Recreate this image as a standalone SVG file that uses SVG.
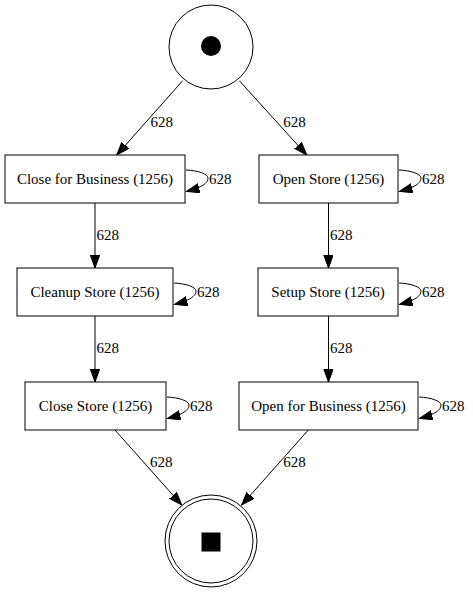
<svg xmlns="http://www.w3.org/2000/svg" width="473" height="593" viewBox="0 0 473 593">
<style>
text{font-family:"Liberation Serif","Times New Roman",serif;font-size:15px;fill:#000}
.n{text-anchor:middle}
.box{fill:#fff;stroke:#000;stroke-width:1}
.e{fill:none;stroke:#000;stroke-width:1;marker-end:url(#arr)}
</style>
<defs>
<marker id="arr" markerUnits="userSpaceOnUse" markerWidth="14" markerHeight="10" refX="13" refY="4.7" orient="auto">
<path d="M0,0 L13,4.7 L0,9.4 Z" fill="#000" stroke="#000" stroke-width="1"/>
</marker>
</defs>
<rect width="473" height="593" fill="#fff"/>
<g id="connectors">
<path class="e" d="M182.7,80.7 L116.7,155"/>
<text x="150.5" y="126.5">628</text>
<path class="e" d="M239.3,80.7 L306.7,155"/>
<text x="283.3" y="126.5">628</text>
<path class="e" d="M95,203 L95,268"/>
<text x="96.5" y="240">628</text>
<path class="e" d="M95,316 L95,382"/>
<text x="96.5" y="353">628</text>
<path class="e" d="M328.5,203 L328.5,268"/>
<text x="330" y="240">628</text>
<path class="e" d="M328.5,316 L328.5,382"/>
<text x="330" y="353">628</text>
<path class="e" d="M115,430 L181.7,505"/>
<text x="150" y="466.7">628</text>
<path class="e" d="M308.3,430 L241.7,505"/>
<text x="283.3" y="466.7">628</text>
<path class="e" d="M186,170 C198,170.5 208,174 208,178 C208,183 202,187.5 186.5,191.5"/>
<text x="209" y="184">628</text>
<path class="e" d="M399,170 C411,170.5 421,174 421,178 C421,183 415,187.5 399.5,191.5"/>
<text x="422" y="184">628</text>
<path class="e" d="M174,283 C186,283.5 196,287 196,291 C196,296 190,300.5 174.5,304.5"/>
<text x="197" y="297">628</text>
<path class="e" d="M399,283 C411,283.5 421,287 421,291 C421,296 415,300.5 399.5,304.5"/>
<text x="422" y="297">628</text>
<path class="e" d="M167,397 C179,397.5 189,401 189,405 C189,410 183,414.5 167.5,418.5"/>
<text x="190" y="411">628</text>
<path class="e" d="M419,397 C431,397.5 441,401 441,405 C441,410 435,414.5 419.5,418.5"/>
<text x="442" y="411">628</text>
</g>
<g id="start">
<circle cx="211" cy="47" r="42" class="box"/>
<circle cx="211" cy="46" r="10" fill="#000"/>
</g>
<g id="end">
<circle cx="211" cy="541" r="46" class="box"/>
<circle cx="211" cy="541" r="42" class="box"/>
<rect x="201.5" y="532.5" width="19" height="19" fill="#000"/>
</g>
<g id="close-for-business">
<rect x="5" y="155" width="180" height="48" class="box"/>
<text class="n" x="95" y="184">Close for Business (1256)</text>
</g>
<g id="open-store">
<rect x="259" y="155" width="139" height="48" class="box"/>
<text class="n" x="328.5" y="184">Open Store (1256)</text>
</g>
<g id="cleanup-store">
<rect x="17" y="268" width="156" height="48" class="box"/>
<text class="n" x="95" y="297">Cleanup Store (1256)</text>
</g>
<g id="setup-store">
<rect x="258" y="268" width="140" height="48" class="box"/>
<text class="n" x="328" y="297">Setup Store (1256)</text>
</g>
<g id="close-store">
<rect x="25" y="382" width="141" height="48" class="box"/>
<text class="n" x="95.5" y="411">Close Store (1256)</text>
</g>
<g id="open-for-business">
<rect x="239" y="382" width="179" height="48" class="box"/>
<text class="n" x="328.5" y="411">Open for Business (1256)</text>
</g>
</svg>
